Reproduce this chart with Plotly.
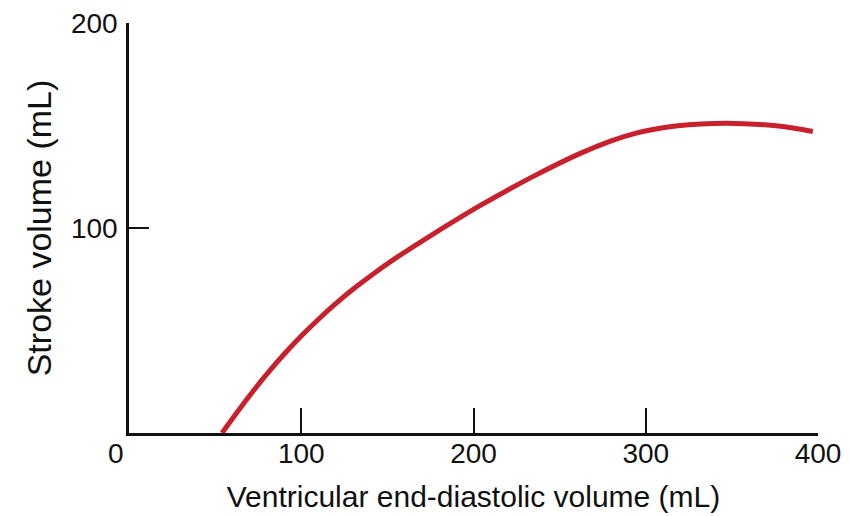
import plotly.graph_objects as go

# Ventricular end-diastolic volume (mL) and stroke volume (mL)
edv = [54, 60, 70, 80, 90, 100, 110, 120, 130, 140, 155, 175, 205, 235, 262, 280, 295, 310, 325, 340, 357, 377, 397]
sv = [0, 7, 18.2, 28.7, 38.4, 47.3, 55.5, 63.1, 70.1, 76.5, 85.4, 96.2, 111.5, 125.3, 136.4, 142.5, 146.4, 148.9, 150.4, 151.0, 150.9, 149.8, 147.1]

x_ticks = [100, 200, 300, 400]
x_ticktext = ["100", "200", "300", "400"]
y_ticks = [100, 200]
y_ticktext = ["100", "200"]

FONT = "Liberation Sans, Arial, Helvetica, sans-serif"

fig = go.Figure()
fig.add_trace(go.Scatter(
    x=edv, y=sv, mode="lines",
    line=dict(color="#c8202c", width=5, shape="spline", smoothing=1.0),
    showlegend=False, hoverinfo="skip",
))

# the page body adds an 8px offset, so margins are reduced by 8px on left/top
fig.update_layout(
    width=850, height=516,
    margin=dict(l=121, r=40, t=15, b=91),
    paper_bgcolor="white", plot_bgcolor="white",
    font=dict(family=FONT, color="#111111"),
    xaxis=dict(
        range=[0, 400], tickvals=x_ticks, ticktext=x_ticktext,
        ticks="inside", ticklen=25, tickwidth=2, tickcolor="#111",
        showline=True, linecolor="#111", linewidth=2.5,
        showgrid=False, zeroline=False, automargin=False,
        ticklabelstandoff=-6,
        tickfont=dict(size=28, family=FONT, color="#111"),
        title=dict(text="Ventricular end-diastolic volume (mL)",
                   font=dict(size=30, family=FONT, color="#111"), standoff=18),
    ),
    yaxis=dict(
        range=[0, 200], tickvals=y_ticks, ticktext=y_ticktext,
        ticks="inside", ticklen=20, tickwidth=2, tickcolor="#111",
        showline=True, linecolor="#111", linewidth=2.5,
        showgrid=False, zeroline=False, automargin=False,
        ticklabelstandoff=3, ticklabeloverflow="allow",
        tickfont=dict(size=28, family=FONT, color="#111"),
        title=dict(text="Stroke volume (mL)",
                   font=dict(size=34, family=FONT, color="#111"), standoff=10),
    ),
)

fig.add_annotation(
    x=0, y=0, xref="x", yref="y", text="0", showarrow=False,
    xshift=-13, yshift=-3, yanchor="top", xanchor="center",
    font=dict(size=28, family=FONT, color="#111"),
)

fig.write_html("out.html")
